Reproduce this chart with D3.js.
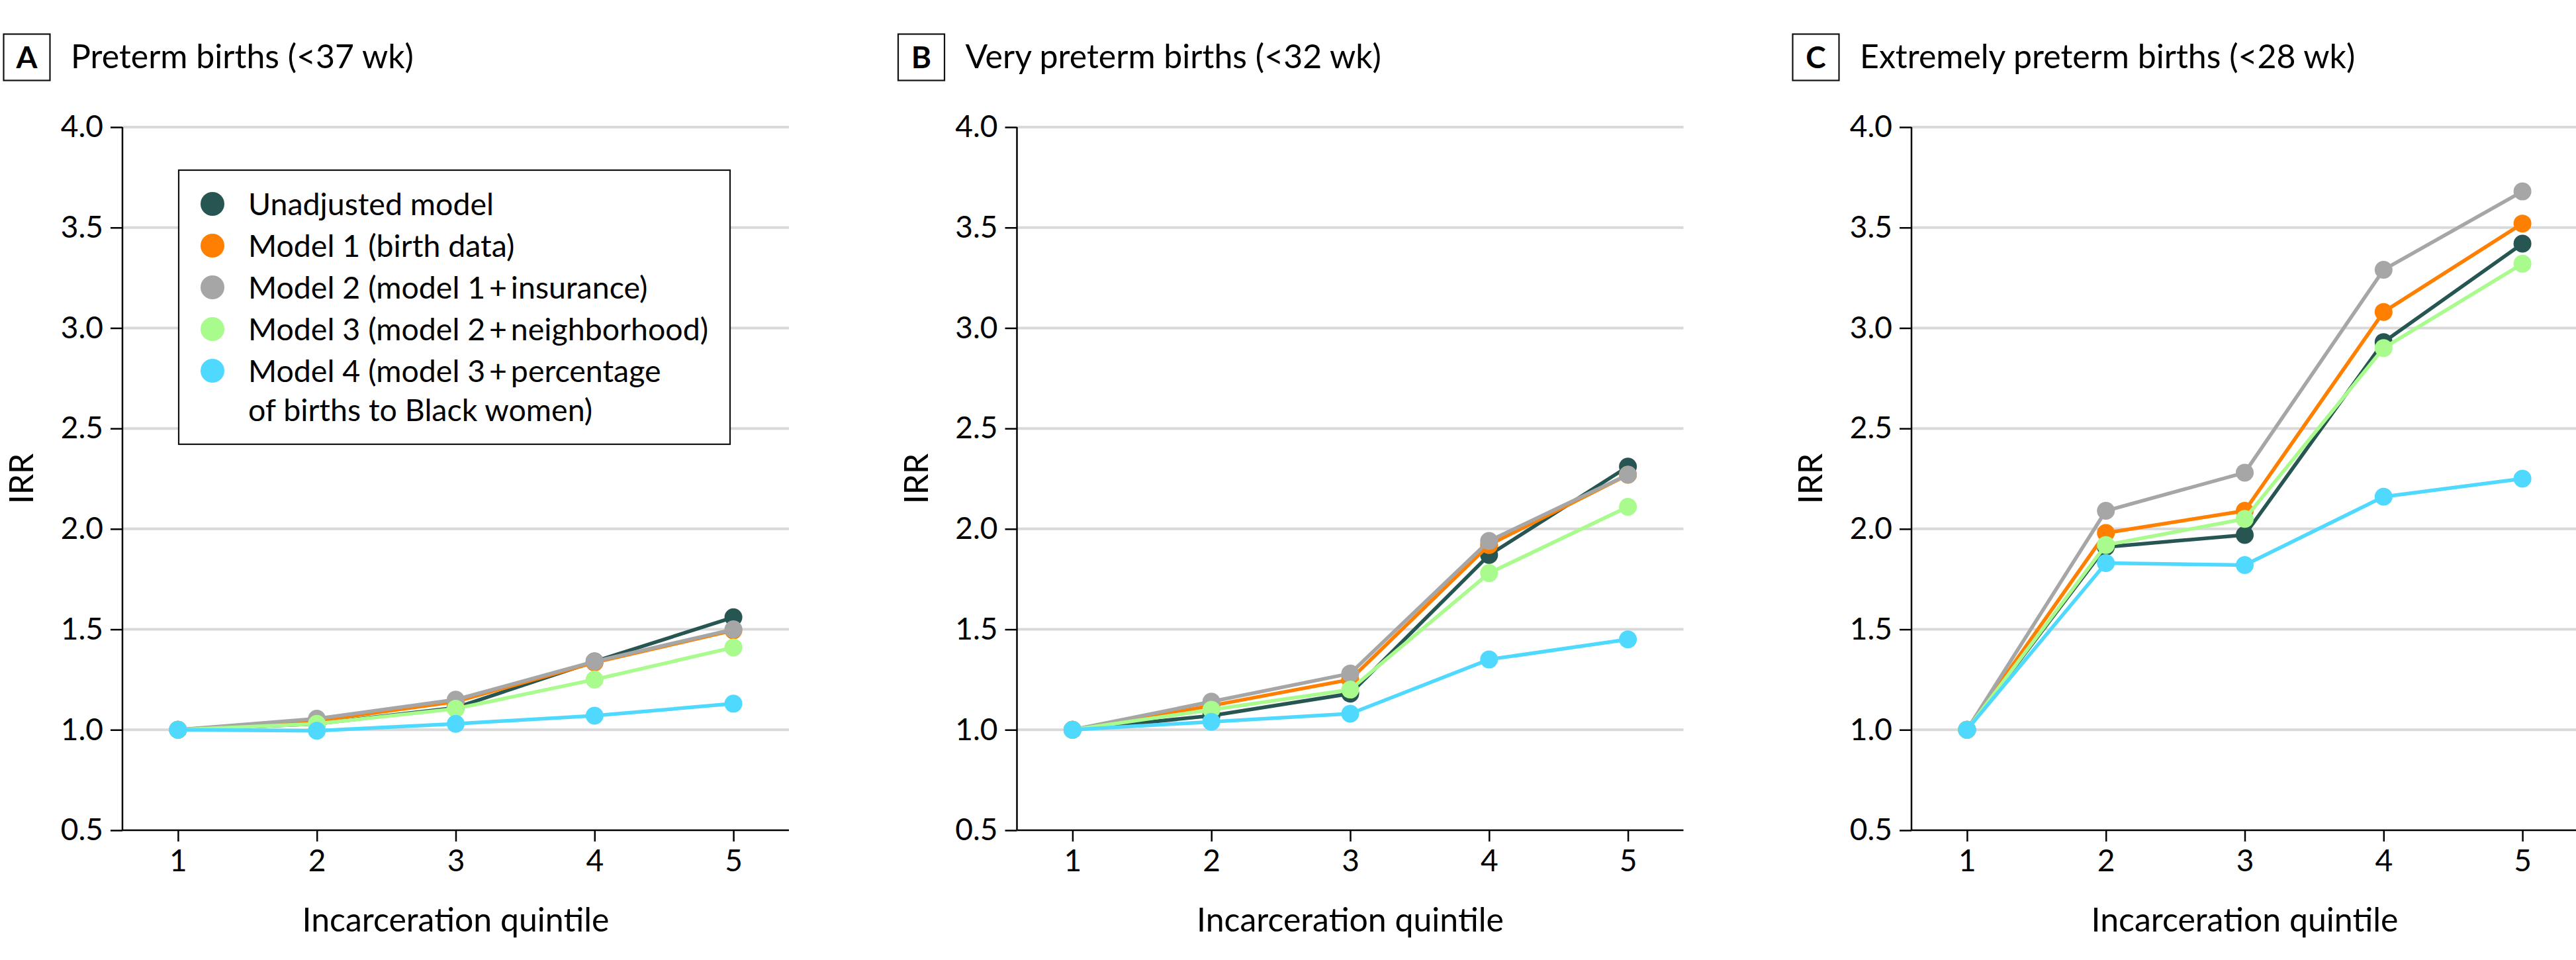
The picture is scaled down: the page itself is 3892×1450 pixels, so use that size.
<!DOCTYPE html>
<html><head><meta charset="utf-8">
<script src="https://cdn.jsdelivr.net/npm/d3@7"></script>
<style>
body{margin:0;background:#fff}
text{font-family:Lato,"DejaVu Sans Condensed",sans-serif;fill:#000}
</style></head>
<body>
<svg id="chart" width="3892" height="1450"></svg>
<script>
// ---------- data ----------
const quintiles = [1, 2, 3, 4, 5];
const yTicks = [0.5, 1.0, 1.5, 2.0, 2.5, 3.0, 3.5, 4.0];
const panelLetters = ["A", "B", "C"];
const panelTitles = ["Preterm births (<37 wk)", "Very preterm births (<32 wk)", "Extremely preterm births (<28 wk)"];
const seriesNames = ["Unadjusted model", "Model 1 (birth data)", "Model 2 (model 1 + insurance)", "Model 3 (model 2 + neighborhood)", "Model 4 (model 3 + percentage of births to Black women)"];
const legendLines = [["Unadjusted model"], ["Model 1 (birth data)"], ["Model 2 (model 1\u2009+\u2009insurance)"], ["Model 3 (model 2\u2009+\u2009neighborhood)"], ["Model 4 (model 3\u2009+\u2009percentage", "of births to Black women)"]];
const seriesColors = ["#275552", "#ff8000", "#a6a6a6", "#a8fb8c", "#50d9ff"];

// IRR values per panel, per series (order: unadjusted, model 1..4)
const pretermIRR = [
  [1.00, 1.03, 1.11, 1.34, 1.56],
  [1.00, 1.045, 1.14, 1.335, 1.495],
  [1.00, 1.055, 1.15, 1.34, 1.50],
  [1.00, 1.03, 1.105, 1.25, 1.41],
  [1.00, 0.995, 1.03, 1.07, 1.13]
];
const veryPretermIRR = [
  [1.00, 1.07, 1.18, 1.87, 2.31],
  [1.00, 1.12, 1.25, 1.92, 2.27],
  [1.00, 1.14, 1.28, 1.94, 2.27],
  [1.00, 1.10, 1.20, 1.78, 2.11],
  [1.00, 1.04, 1.08, 1.35, 1.45]
];
const extremelyPretermIRR = [
  [1.00, 1.91, 1.97, 2.93, 3.42],
  [1.00, 1.98, 2.09, 3.08, 3.52],
  [1.00, 2.09, 2.28, 3.29, 3.68],
  [1.00, 1.92, 2.05, 2.90, 3.32],
  [1.00, 1.83, 1.82, 2.16, 2.25]
];
const panelData = [pretermIRR, veryPretermIRR, extremelyPretermIRR];
const xTitle = "Incarceration quintile";
const yTitle = "IRR";

// ---------- layout ----------
const svg = d3.select("#chart");
const panelStep = 1351.5;
const plotLeft = 185, plotRight = 1192, plotTop = 192, plotBottom = 1254;

panelData.forEach((data, p) => {
  const g = svg.append("g").attr("transform", `translate(${p * panelStep},0)`);
  const x = d3.scaleLinear().domain([0.6, 5.4]).range([plotLeft, plotRight]);
  const y = d3.scaleLinear().domain([0.5, 4.0]).range([plotBottom, plotTop]);

  // title
  g.append("rect").attr("x", 5.5).attr("y", 51.5).attr("width", 70).attr("height", 70)
    .attr("fill", "none").attr("stroke", "#111").attr("stroke-width", 2.2);
  g.append("text").attr("x", 40.5).attr("y", 103).attr("text-anchor", "middle")
    .style("font-weight", "bold").style("font-size", "46px").text(panelLetters[p]);
  g.append("text").attr("x", 107).attr("y", 103).style("font-size", "50px").text(panelTitles[p]);

  // gridlines
  g.append("g").selectAll("line").data(yTicks.filter(t => t > 0.5)).join("line")
    .attr("x1", plotLeft).attr("x2", plotRight)
    .attr("y1", d => y(d)).attr("y2", d => y(d))
    .attr("stroke", "#d9d9d9").attr("stroke-width", 4);

  // axes
  const yAxis = g.append("g").attr("transform", `translate(${plotLeft},0)`)
    .call(d3.axisLeft(y).tickValues(yTicks).tickFormat(d3.format(".1f")).tickSize(18).tickPadding(11));
  const xAxis = g.append("g").attr("transform", `translate(0,${plotBottom})`)
    .call(d3.axisBottom(x).tickValues(quintiles).tickFormat(d3.format("d")).tickSize(17).tickPadding(12));
  [yAxis, xAxis].forEach(a => {
    a.select(".domain").attr("stroke", "#000").attr("stroke-width", 2.5);
    a.selectAll(".tick line").attr("stroke", "#000").attr("stroke-width", 2.5);
    a.selectAll(".tick text").style("font-size", "46px").attr("fill", "#000");
  });
  yAxis.select(".domain").attr("d", `M0,${plotBottom}V${plotTop}`);
  xAxis.select(".domain").attr("d", `M${plotLeft},0H${plotRight}`);

  // axis titles
  g.append("text").attr("x", (plotLeft + plotRight) / 2).attr("y", 1407).attr("text-anchor", "middle")
    .style("font-size", "50px").text(xTitle);
  g.append("text").attr("transform", `translate(${plotLeft - 135},${(plotTop + plotBottom) / 2}) rotate(-90)`)
    .attr("text-anchor", "middle").style("font-size", "50px").text(yTitle);

  // series
  const line = d3.line().x((d, i) => x(quintiles[i])).y(d => y(d));
  data.forEach((vals, s) => {
    const sg = g.append("g");
    sg.append("path").datum(vals).attr("d", line).attr("fill", "none")
      .attr("stroke", seriesColors[s]).attr("stroke-width", 5.5).attr("stroke-linejoin", "round");
    sg.selectAll("circle").data(vals).join("circle")
      .attr("cx", (d, i) => x(quintiles[i])).attr("cy", d => y(d)).attr("r", 13.5)
      .attr("fill", seriesColors[s]);
  });

  // legend only in panel A
  if (p === 0) {
    const lg = g.append("g");
    lg.append("rect").attr("x", 270).attr("y", 257).attr("width", 833).attr("height", 414)
      .attr("fill", "#fff").attr("stroke", "#111").attr("stroke-width", 2.2);
    const rowY = [308, 371, 434, 497, 560];
    legendLines.forEach((lines, s) => {
      lg.append("circle").attr("cx", 321).attr("cy", rowY[s]).attr("r", 18).attr("fill", seriesColors[s]);
      lines.forEach((t, k) => {
        lg.append("text").attr("x", 375).attr("y", rowY[s] + 17 + k * 59).style("font-size", "46.5px").text(t);
      });
    });
  }
});
</script></body></html>
